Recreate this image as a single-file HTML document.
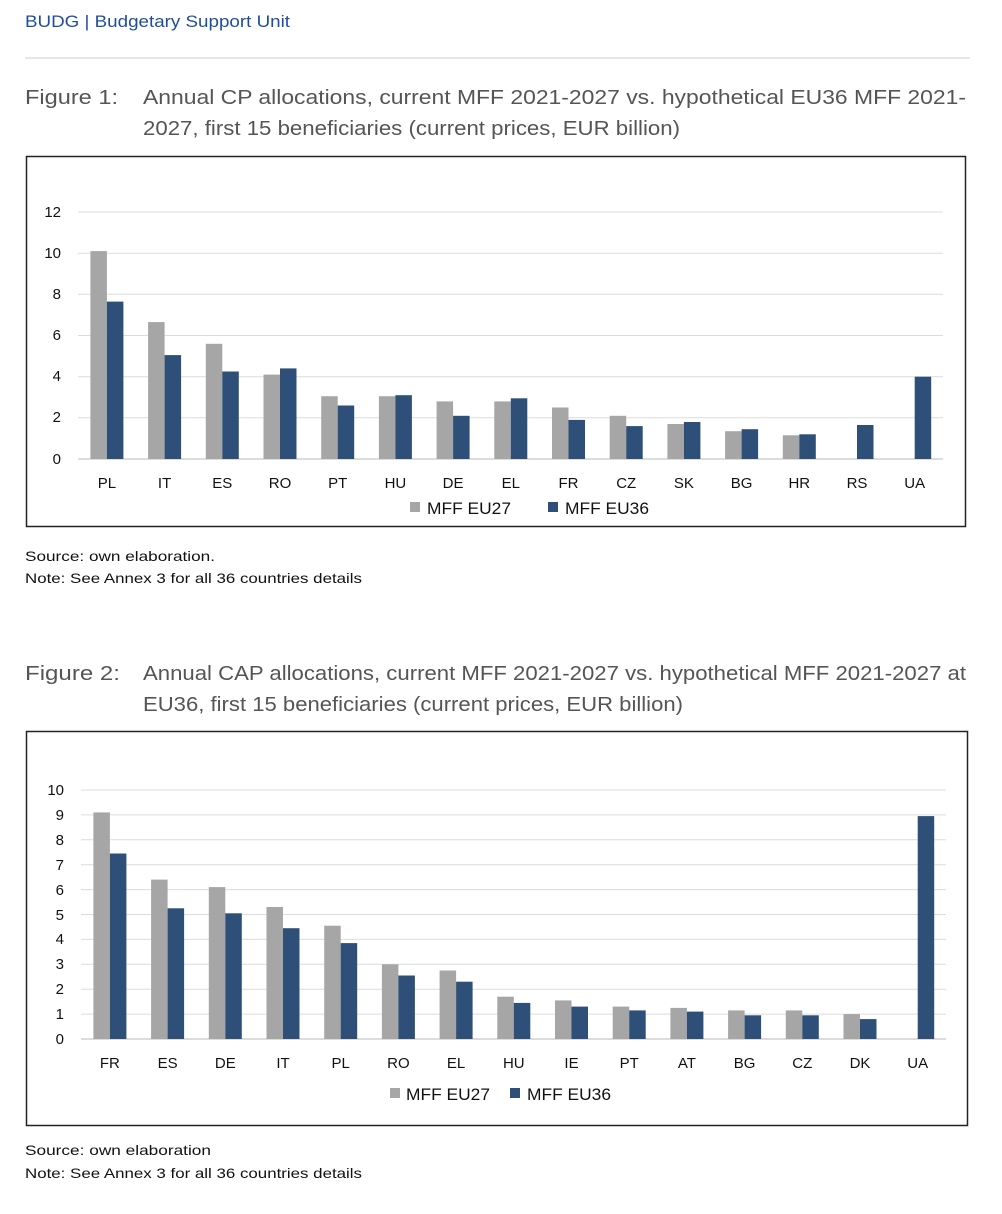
<!DOCTYPE html>
<html><head><meta charset="utf-8"><style>
body{margin:0;background:#fff;}
svg{display:block;font-family:"Liberation Sans",sans-serif;}
</style></head><body>
<svg width="1002" height="1214" viewBox="0 0 1002 1214" xmlns="http://www.w3.org/2000/svg">
<text x="25" y="27" font-size="17" fill="#1f4e9c" textLength="265" lengthAdjust="spacingAndGlyphs">BUDG | Budgetary Support Unit</text>
<line x1="25" y1="58" x2="970" y2="58" stroke="#cfcfcf" stroke-width="1"/>
<g font-size="20" fill="#555">
<text x="25" y="104" textLength="93" lengthAdjust="spacingAndGlyphs">Figure 1:</text>
<text x="143" y="104" textLength="823" lengthAdjust="spacingAndGlyphs">Annual CP allocations, current MFF 2021-2027 vs. hypothetical EU36 MFF 2021-</text>
<text x="143" y="135" textLength="537" lengthAdjust="spacingAndGlyphs">2027, first 15 beneficiaries (current prices, EUR billion)</text>
<text x="25" y="680" textLength="95" lengthAdjust="spacingAndGlyphs">Figure 2:</text>
<text x="143" y="680" textLength="823" lengthAdjust="spacingAndGlyphs">Annual CAP allocations, current MFF 2021-2027 vs. hypothetical MFF 2021-2027 at</text>
<text x="143" y="711" textLength="540" lengthAdjust="spacingAndGlyphs">EU36, first 15 beneficiaries (current prices, EUR billion)</text>
</g>
<g font-size="14" fill="#111">
<text x="25" y="561" textLength="190" lengthAdjust="spacingAndGlyphs">Source: own elaboration.</text>
<text x="25" y="583" textLength="337" lengthAdjust="spacingAndGlyphs">Note: See Annex 3 for all 36 countries details</text>
<text x="25" y="1155" textLength="186" lengthAdjust="spacingAndGlyphs">Source: own elaboration</text>
<text x="25" y="1178" textLength="337" lengthAdjust="spacingAndGlyphs">Note: See Annex 3 for all 36 countries details</text>
</g>
<!-- Chart 1 -->
<rect x="26.5" y="156.5" width="939" height="370" fill="none" stroke="#222" stroke-width="1.5"/>
<g stroke="#dcdcdc" stroke-width="1">
<line x1="78" y1="212" x2="943" y2="212"/><line x1="78" y1="253.2" x2="943" y2="253.2"/>
<line x1="78" y1="294.3" x2="943" y2="294.3"/><line x1="78" y1="335.5" x2="943" y2="335.5"/>
<line x1="78" y1="376.7" x2="943" y2="376.7"/><line x1="78" y1="417.8" x2="943" y2="417.8"/>
<line x1="78" y1="459" x2="943" y2="459" stroke="#d0d0d0" stroke-width="1.5"/>
</g>
<g font-size="15" fill="#111" text-anchor="end">
<text x="61" y="217">12</text><text x="61" y="258">10</text><text x="61" y="299">8</text>
<text x="61" y="340">6</text><text x="61" y="381">4</text><text x="61" y="422">2</text><text x="61" y="464">0</text>
</g>
<g fill="#a6a6a6">
<rect x="90.4" y="251.1" width="16.5" height="207.9"/>
<rect x="148.1" y="322.1" width="16.5" height="136.9"/>
<rect x="205.8" y="343.8" width="16.5" height="115.2"/>
<rect x="263.5" y="374.6" width="16.5" height="84.4"/>
<rect x="321.2" y="396.2" width="16.5" height="62.8"/>
<rect x="378.9" y="396.2" width="16.5" height="62.8"/>
<rect x="436.6" y="401.4" width="16.5" height="57.6"/>
<rect x="494.3" y="401.4" width="16.5" height="57.6"/>
<rect x="552" y="407.5" width="16.5" height="51.5"/>
<rect x="609.7" y="415.8" width="16.5" height="43.2"/>
<rect x="667.4" y="424" width="16.5" height="35"/>
<rect x="725.1" y="431.2" width="16.5" height="27.8"/>
<rect x="782.8" y="435.3" width="16.5" height="23.7"/>
</g>
<g fill="#2e5078">
<rect x="106.9" y="301.6" width="16.5" height="157.4"/>
<rect x="164.6" y="355.1" width="16.5" height="103.9"/>
<rect x="222.3" y="371.5" width="16.5" height="87.5"/>
<rect x="280" y="368.4" width="16.5" height="90.6"/>
<rect x="337.7" y="405.5" width="16.5" height="53.5"/>
<rect x="395.4" y="395.2" width="16.5" height="63.8"/>
<rect x="453.1" y="415.8" width="16.5" height="43.2"/>
<rect x="510.8" y="398.3" width="16.5" height="60.7"/>
<rect x="568.5" y="419.9" width="16.5" height="39.1"/>
<rect x="626.2" y="426.1" width="16.5" height="32.9"/>
<rect x="683.9" y="422" width="16.5" height="37"/>
<rect x="741.6" y="429.2" width="16.5" height="29.8"/>
<rect x="799.3" y="434.3" width="16.5" height="24.7"/>
<rect x="857" y="425" width="16.5" height="34"/>
<rect x="914.7" y="376.7" width="16.5" height="82.3"/>
</g>
<g font-size="15" fill="#111" text-anchor="middle">
<text x="106.9" y="488">PL</text><text x="164.6" y="488">IT</text><text x="222.3" y="488">ES</text>
<text x="280" y="488">RO</text><text x="337.7" y="488">PT</text><text x="395.4" y="488">HU</text>
<text x="453.1" y="488">DE</text><text x="510.8" y="488">EL</text><text x="568.5" y="488">FR</text>
<text x="626.2" y="488">CZ</text><text x="683.9" y="488">SK</text><text x="741.6" y="488">BG</text>
<text x="799.3" y="488">HR</text><text x="857" y="488">RS</text><text x="914.7" y="488">UA</text>
</g>
<rect x="410" y="502" width="10" height="10" fill="#a6a6a6"/>
<text x="427" y="514" font-size="17" fill="#111" textLength="84" lengthAdjust="spacingAndGlyphs">MFF EU27</text>
<rect x="548" y="502" width="10" height="10" fill="#2e5078"/>
<text x="565" y="514" font-size="17" fill="#111" textLength="84" lengthAdjust="spacingAndGlyphs">MFF EU36</text>
<!-- Chart 2 -->
<rect x="26.5" y="731.5" width="941" height="394" fill="none" stroke="#222" stroke-width="1.5"/>
<g stroke="#dcdcdc" stroke-width="1">
<line x1="81" y1="790" x2="946" y2="790"/><line x1="81" y1="814.9" x2="946" y2="814.9"/>
<line x1="81" y1="839.8" x2="946" y2="839.8"/><line x1="81" y1="864.7" x2="946" y2="864.7"/>
<line x1="81" y1="889.6" x2="946" y2="889.6"/><line x1="81" y1="914.5" x2="946" y2="914.5"/>
<line x1="81" y1="939.4" x2="946" y2="939.4"/><line x1="81" y1="964.3" x2="946" y2="964.3"/>
<line x1="81" y1="989.2" x2="946" y2="989.2"/><line x1="81" y1="1014.1" x2="946" y2="1014.1"/>
<line x1="81" y1="1039" x2="946" y2="1039" stroke="#d0d0d0" stroke-width="1.5"/>
</g>
<g font-size="15" fill="#111" text-anchor="end">
<text x="64" y="795">10</text><text x="64" y="820">9</text><text x="64" y="845">8</text>
<text x="64" y="870">7</text><text x="64" y="895">6</text><text x="64" y="920">5</text>
<text x="64" y="944">4</text><text x="64" y="969">3</text><text x="64" y="994">2</text>
<text x="64" y="1019">1</text><text x="64" y="1044">0</text>
</g>
<g fill="#a6a6a6">
<rect x="93.4" y="812.4" width="16.5" height="226.6"/>
<rect x="151.1" y="879.6" width="16.5" height="159.4"/>
<rect x="208.8" y="887.1" width="16.5" height="151.9"/>
<rect x="266.5" y="907" width="16.5" height="132"/>
<rect x="324.2" y="925.7" width="16.5" height="113.3"/>
<rect x="381.9" y="964.3" width="16.5" height="74.7"/>
<rect x="439.6" y="970.5" width="16.5" height="68.5"/>
<rect x="497.3" y="996.7" width="16.5" height="42.3"/>
<rect x="555" y="1000.4" width="16.5" height="38.6"/>
<rect x="612.7" y="1006.6" width="16.5" height="32.4"/>
<rect x="670.4" y="1007.9" width="16.5" height="31.1"/>
<rect x="728.1" y="1010.4" width="16.5" height="28.6"/>
<rect x="785.8" y="1010.4" width="16.5" height="28.6"/>
<rect x="843.5" y="1014.1" width="16.5" height="24.9"/>
</g>
<g fill="#2e5078">
<rect x="109.9" y="853.5" width="16.5" height="185.5"/>
<rect x="167.6" y="908.3" width="16.5" height="130.7"/>
<rect x="225.3" y="913.3" width="16.5" height="125.7"/>
<rect x="283" y="928.2" width="16.5" height="110.8"/>
<rect x="340.7" y="943.1" width="16.5" height="95.9"/>
<rect x="398.4" y="975.5" width="16.5" height="63.5"/>
<rect x="456.1" y="981.7" width="16.5" height="57.3"/>
<rect x="513.8" y="1002.9" width="16.5" height="36.1"/>
<rect x="571.5" y="1006.6" width="16.5" height="32.4"/>
<rect x="629.2" y="1010.4" width="16.5" height="28.6"/>
<rect x="686.9" y="1011.6" width="16.5" height="27.4"/>
<rect x="744.6" y="1015.3" width="16.5" height="23.7"/>
<rect x="802.3" y="1015.3" width="16.5" height="23.7"/>
<rect x="860" y="1019.1" width="16.5" height="19.9"/>
<rect x="917.7" y="816.1" width="16.5" height="222.9"/>
</g>
<g font-size="15" fill="#111" text-anchor="middle">
<text x="109.9" y="1068">FR</text><text x="167.6" y="1068">ES</text><text x="225.3" y="1068">DE</text>
<text x="283" y="1068">IT</text><text x="340.7" y="1068">PL</text><text x="398.4" y="1068">RO</text>
<text x="456.1" y="1068">EL</text><text x="513.8" y="1068">HU</text><text x="571.5" y="1068">IE</text>
<text x="629.2" y="1068">PT</text><text x="686.9" y="1068">AT</text><text x="744.6" y="1068">BG</text>
<text x="802.3" y="1068">CZ</text><text x="860" y="1068">DK</text><text x="917.7" y="1068">UA</text>
</g>
<rect x="390" y="1088" width="10" height="10" fill="#a6a6a6"/>
<text x="406" y="1100" font-size="17" fill="#111" textLength="84" lengthAdjust="spacingAndGlyphs">MFF EU27</text>
<rect x="510" y="1088" width="10" height="10" fill="#2e5078"/>
<text x="527" y="1100" font-size="17" fill="#111" textLength="84" lengthAdjust="spacingAndGlyphs">MFF EU36</text>
</svg>
</body></html>
